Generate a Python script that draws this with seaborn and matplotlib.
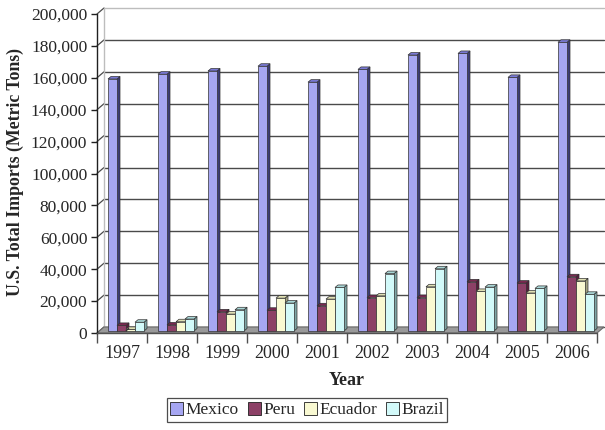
import numpy as np
import pandas as pd
import matplotlib
matplotlib.use("Agg")
import matplotlib.pyplot as plt
from matplotlib.patches import Polygon
from matplotlib.lines import Line2D
from matplotlib.ticker import FuncFormatter, FixedLocator
import seaborn as sns

# ---- data -------------------------------------------------------------
years = ["1997", "1998", "1999", "2000", "2001", "2002", "2003", "2004", "2005", "2006"]
countries = ["Mexico", "Peru", "Ecuador", "Brazil"]
mexico = [158000, 161000, 163000, 166000, 156000, 164000, 173000, 174000, 159000, 181000]
peru = [3500, 3800, 12000, 13000, 15800, 21000, 21000, 30800, 30000, 34000]
ecuador = [1000, 5800, 10600, 20600, 20000, 22000, 27700, 24800, 23800, 31400]
brazil = [5500, 7500, 13300, 17500, 27300, 36000, 39000, 27500, 26700, 23000]

face_colors = ["#9999FF", "#993366", "#FFFFCC", "#CCFFFF"]
side_colors = ["#3c3c78", "#5a1c3c", "#a3a383", "#7fa6a6"]
top_colors = ["#7a7ad6", "#7a2850", "#e0e0b4", "#a9d6d6"]

y_ticks = list(range(0, 200001, 20000))

df = pd.DataFrame({
    "Year": np.repeat(years, len(countries)),
    "Country": countries * len(years),
    "Imports": np.ravel(np.column_stack([mexico, peru, ecuador, brazil])),
})

# ---- figure -----------------------------------------------------------
sns.set_style("white")
plt.rcParams["font.family"] = ["Liberation Serif", "DejaVu Serif"]

W, H, DPI = 605, 430, 100
fig = plt.figure(figsize=(W / DPI, H / DPI), dpi=DPI)
ax = fig.add_axes([97 / W, (H - 333) / H, 500 / W, 319 / H])

sns.barplot(data=df, x="Year", y="Imports", hue="Country", order=years,
            hue_order=countries, palette=face_colors, width=0.72,
            edgecolor="#303030", linewidth=0.5, ax=ax, zorder=5)

ax.set_xlim(-0.5, len(years) - 0.5)
ax.set_ylim(0, 200000)

# pixel -> data unit conversion (axes geometry is fixed)
ux = (len(years)) / 500.0
uy = 200000 / 319.0

# wall depth and bar depth, in pixels
WDX, WDY = 7, 6
BDX, BDY = 3, 2.5
SHX, SHY = 4, 2  # bars sit part-way into the depth

for sp in ["top", "right", "bottom"]:
    ax.spines[sp].set_visible(False)
ax.spines["left"].set_color("#202020")
ax.spines["left"].set_linewidth(1.0)
ax.grid(False)

# back wall gridlines, left wall edge and floor
x0, x1 = -0.5, len(years) - 0.5
for v in y_ticks:
    col = "#bdbdbd" if v == y_ticks[-1] else "#4a4a4a"
    ax.add_line(Line2D([x0 + WDX * ux, x1 + WDX * ux], [v + WDY * uy, v + WDY * uy],
                       color=col, lw=1.0, zorder=1, clip_on=False))
    ax.add_line(Line2D([x0, x0 + WDX * ux], [v, v + WDY * uy],
                       color="#4a4a4a", lw=0.9, zorder=1, clip_on=False))
ax.add_line(Line2D([x0 + WDX * ux, x0 + WDX * ux], [WDY * uy, 200000 + WDY * uy],
                   color="#bdbdbd", lw=1.0, zorder=1, clip_on=False))
floor = Polygon([(x0, 0), (x1, 0), (x1 + WDX * ux, WDY * uy), (x0 + WDX * ux, WDY * uy)],
                closed=True, facecolor="#9a9a9a", edgecolor="#6a6a6a", lw=0.8,
                zorder=2, clip_on=False)
ax.add_patch(floor)

# give each bar a side and a top face
bars = [b for b in list(ax.patches) if b is not floor]
for b in bars:
    bx, by = b.get_x(), b.get_y()
    bw, bh = b.get_width(), b.get_height()
    fc = b.get_facecolor()
    idx = int(np.argmin([np.sum(np.abs(np.array(matplotlib.colors.to_rgba(c)) - np.array(fc)))
                         for c in face_colors]))
    sx, sy = SHX * ux, SHY * uy
    lx, rx = bx + sx, bx + bw + sx
    bot, top = by + sy, by + bh + sy
    dx, dy = BDX * ux, BDY * uy
    z = 5 + bx * 0.01 + idx * 0.001
    b.set_x(lx)
    b.set_y(bot)
    b.set_zorder(z + 0.0005)
    side = Polygon([(rx, bot), (rx + dx, bot + dy), (rx + dx, top + dy), (rx, top)],
                   closed=True, facecolor=side_colors[idx], edgecolor="#303030",
                   lw=0.5, zorder=z, clip_on=False)
    cap = Polygon([(lx, top), (rx, top), (rx + dx, top + dy), (lx + dx, top + dy)],
                  closed=True, facecolor=top_colors[idx], edgecolor="#303030",
                  lw=0.5, zorder=z, clip_on=False)
    ax.add_patch(side)
    ax.add_patch(cap)
    b.set_clip_on(False)

# axes ticks and labels
ax.yaxis.set_major_locator(FixedLocator(y_ticks))
ax.yaxis.set_major_formatter(FuncFormatter(lambda v, p: f"{int(v):,}"))
ax.tick_params(axis="y", which="major", left=True, length=4, width=1.0,
               color="#202020", pad=3, labelsize=12.5)
ax.set_xticks(range(len(years)))
ax.set_xticks(np.arange(-0.5, len(years)), minor=True)
ax.tick_params(axis="x", which="major", length=0, pad=9, labelsize=13)
ax.tick_params(axis="x", which="minor", bottom=True, length=7, width=1.0, color="#505050")
ax.add_line(Line2D([x0, x1], [0, 0], color="#505050", lw=1.0, zorder=3, clip_on=False))

ax.set_xlabel("Year", fontsize=13, fontweight="bold", labelpad=7)
ax.set_ylabel("U.S. Total Imports (Metric Tons)", fontsize=12.8, fontweight="bold")
ax.yaxis.set_label_coords(-0.146, 0.505)

sns.move_legend(ax, "center", bbox_to_anchor=(307 / W, 20 / H),
                bbox_transform=fig.transFigure, ncol=4, title=None, frameon=True,
                fontsize=12.5, handlelength=0.75, handleheight=0.75, handletextpad=0.15,
                columnspacing=0.5, borderpad=0.2, borderaxespad=0.2, fancybox=False)
leg = ax.get_legend()
leg.get_frame().set_edgecolor("#202020")
leg.get_frame().set_linewidth(0.9)
for h in leg.legend_handles:
    h.set_edgecolor("#202020")
    h.set_linewidth(0.6)

fig.savefig("out.png", dpi=DPI)
